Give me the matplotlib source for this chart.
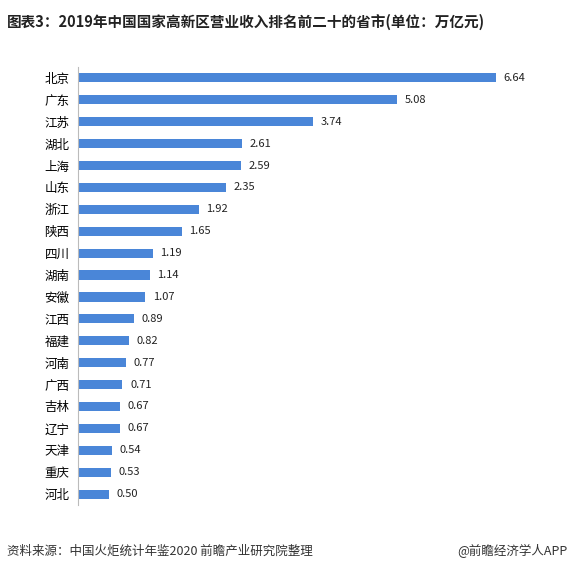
import matplotlib.pyplot as plt

plt.rcParams['font.family'] = ['Noto Sans CJK SC', 'DejaVu Sans']

provinces = ['北京', '广东', '江苏', '湖北', '上海', '山东', '浙江', '陕西', '四川', '湖南',
             '安徽', '江西', '福建', '河南', '广西', '吉林', '辽宁', '天津', '重庆', '河北']
values = [6.64, 5.08, 3.74, 2.61, 2.59, 2.35, 1.92, 1.65, 1.19, 1.14,
          1.07, 0.89, 0.82, 0.77, 0.71, 0.67, 0.67, 0.54, 0.53, 0.50]

fig = plt.figure(figsize=(5.72, 5.72), dpi=100)
ax = fig.add_axes([0.136, 0.117, 0.77, 0.766])

y = list(range(len(provinces)))
ax.barh(y, values, height=0.42, color='#4a86d8')
for yi, v in zip(y, values):
    ax.text(v + 0.12, yi, f'{v:.2f}', va='center', ha='left', fontsize=8, color='#222222')

ax.set_yticks(y)
ax.set_yticklabels(provinces, fontsize=9)
ax.set_ylim(len(provinces) - 0.5, -0.5)
ax.set_xlim(0, 7)
ax.set_xticks([])
for s in ['top', 'right', 'bottom']:
    ax.spines[s].set_visible(False)
ax.spines['left'].set_color('#bbbbbb')
ax.tick_params(axis='y', length=0, pad=6)

fig.text(0.012, 0.962, '图表3：2019年中国国家高新区营业收入排名前二十的省市(单位：万亿元)',
         fontsize=10.5, fontweight='bold', color='#222222', va='center')
fig.text(0.012, 0.037, '资料来源：中国火炬统计年鉴2020 前瞻产业研究院整理',
         fontsize=9, color='#333333', va='center')
fig.text(0.992, 0.037, '@前瞻经济学人APP', fontsize=9, color='#333333', va='center', ha='right')

fig.savefig('out.png', dpi=100)
